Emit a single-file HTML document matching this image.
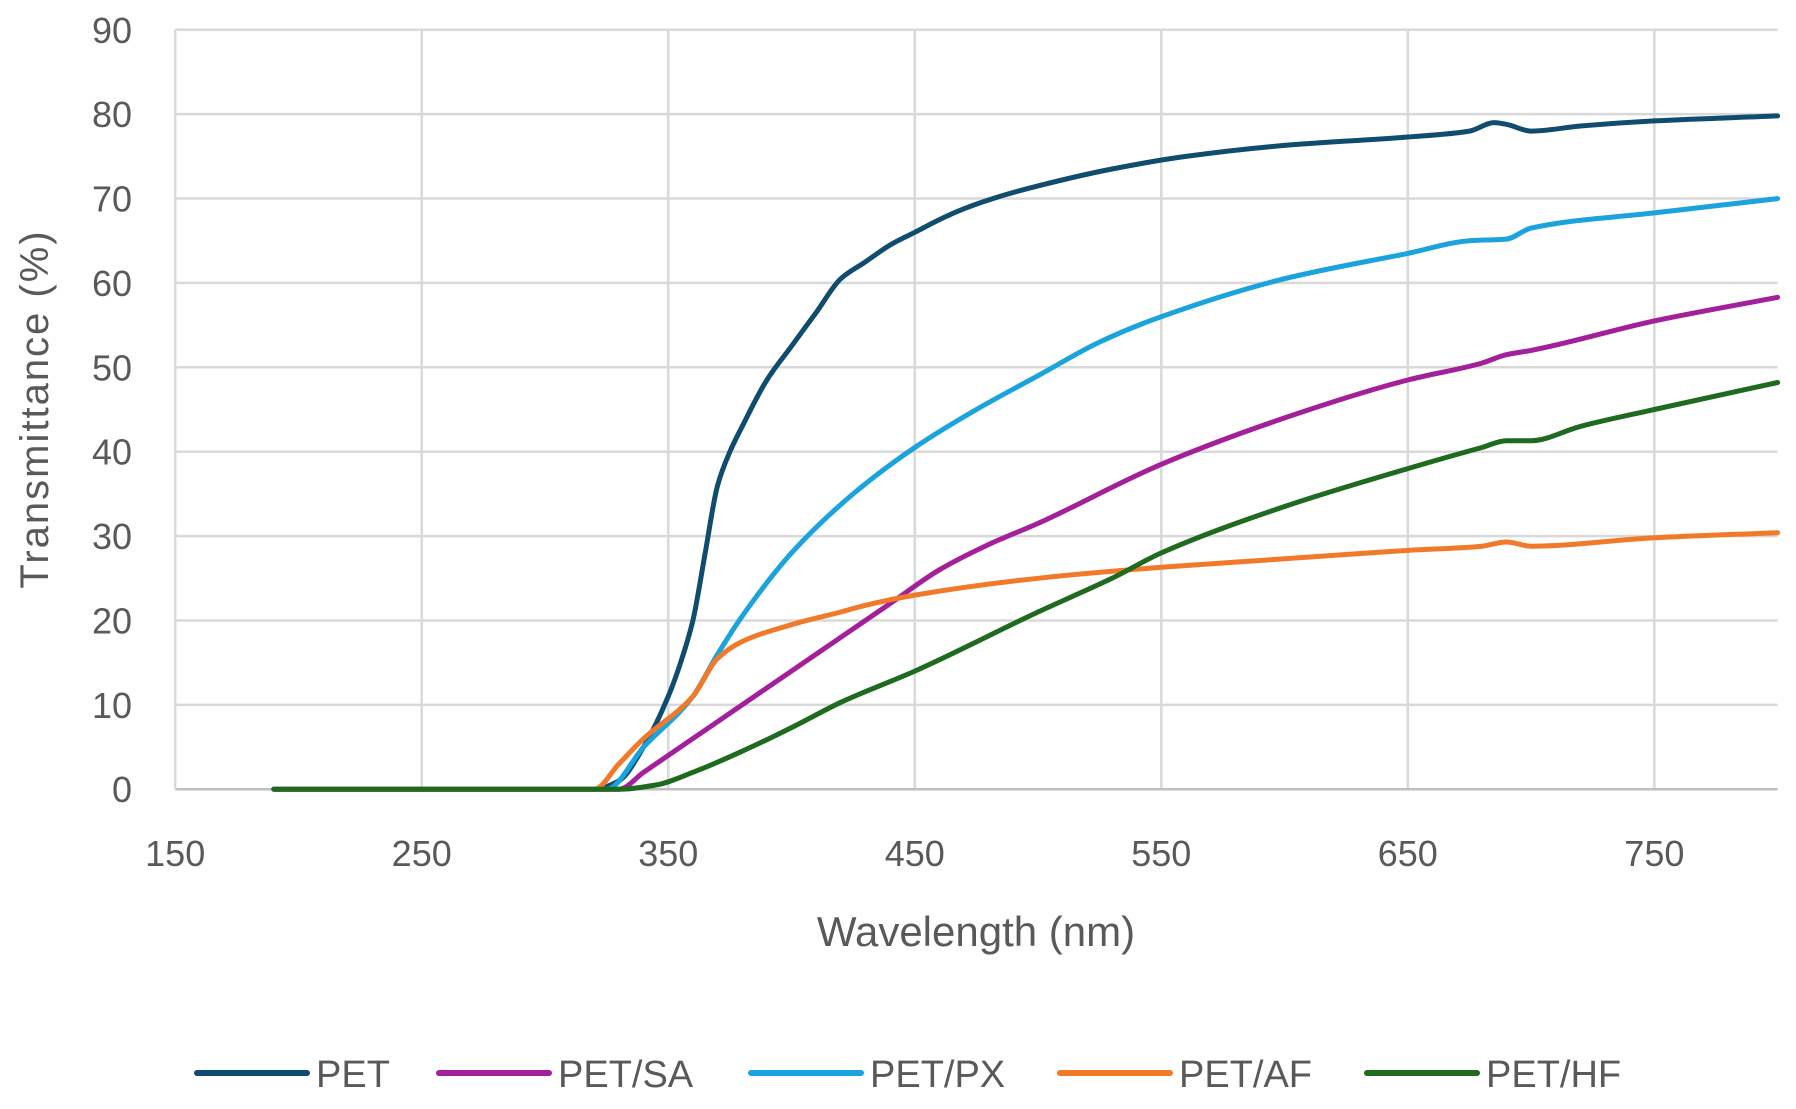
<!DOCTYPE html>
<html><head><meta charset="utf-8"><style>
html,body{margin:0;padding:0;background:#fff;}
svg{display:block;font-family:"Liberation Sans",sans-serif;}
</style></head><body>
<svg id="chart" width="1796" height="1109" viewBox="0 0 1796 1109"></svg>
<script>
const xTicks=[150,250,350,450,550,650,750];
const yTicks=[0,10,20,30,40,50,60,70,80,90];
const seriesNames=["PET","PET/SA","PET/PX","PET/AF","PET/HF"];
const seriesColors=["#0f4c6e","#a3209a","#1aa3dc","#f07a2a","#1e6a1e"];
const petX=[190,320,330,340,350,355,360,365,370,375,380,390,400,410,420,430,440,450,460,470,485,500,530,560,600,650,675,685,690,700,720,750,800];
const petY=[0,0,1,5,11,15,20,28,36,40,43,48.5,52.5,56.5,60.5,62.5,64.5,66,67.5,68.8,70.3,71.5,73.5,75,76.3,77.3,78,79,78.8,78,78.6,79.2,79.8];
const saX=[190,330,340,360,380,400,420,440,460,480,500,550,600,650,680,690,700,750,800];
const saY=[0,0,2,6,10,14,18,22,26,29,31.5,38.5,44,48.5,50.5,51.5,52,55.5,58.3];
const pxX=[190,325,340,360,370,380,400,425,450,475,500,525,550,600,650,675,690,700,750,800];
const pxY=[0,0,5,11,16,20.5,28,35,40.5,45,49,53,56,60.5,63.5,65,65.2,66.5,68.3,70];
const afX=[190,320,330,340,360,370,380,400,420,430,450,500,550,600,650,680,690,700,750,800];
const afY=[0,0,3,6,11,15.5,17.5,19.5,21,21.8,23,25,26.3,27.3,28.3,28.8,29.3,28.8,29.8,30.4];
const hfX=[190,330,345,360,380,400,420,450,500,530,550,600,650,680,690,700,720,750,800];
const hfY=[0,0,0.5,2,4.5,7.3,10.3,14,21,25,28,33.5,38,40.5,41.3,41.3,43,45,48.2];
const allX=[petX,saX,pxX,afX,hfX];
const allY=[petY,saY,pxY,afY,hfY];

const X0=175.2,X1=1777.6,Y0=789.2,Y1=29.8;
const sx=v=>X0+(v-150)*(X1-X0)/650;
const sy=v=>Y0-(v)*(Y0-Y1)/90;
const svg=document.getElementById('chart');
const NS="http://www.w3.org/2000/svg";
function mk(t,a){const e=document.createElementNS(NS,t);for(const k in a)e.setAttribute(k,a[k]);svg.appendChild(e);return e;}
// monotone cubic (Fritsch-Carlson) in data space
function monotonePath(xs,ys){
  const n=xs.length,d=[],m=[];
  for(let i=0;i<n-1;i++)d.push((ys[i+1]-ys[i])/(xs[i+1]-xs[i]));
  m[0]=d[0];m[n-1]=d[n-2];
  for(let i=1;i<n-1;i++){
    if(d[i-1]*d[i]<=0)m[i]=0;
    else{const h0=xs[i]-xs[i-1],h1=xs[i+1]-xs[i];
      const w1=2*h1+h0,w2=h1+2*h0;m[i]=(w1+w2)/(w1/d[i-1]+w2/d[i]);}
  }
  let p='M'+sx(xs[0]).toFixed(1)+','+sy(ys[0]).toFixed(1);
  for(let i=0;i<n-1;i++){
    const h=xs[i+1]-xs[i];
    p+=' C'+sx(xs[i]+h/3).toFixed(1)+','+sy(ys[i]+m[i]*h/3).toFixed(1)+' '+
      sx(xs[i+1]-h/3).toFixed(1)+','+sy(ys[i+1]-m[i+1]*h/3).toFixed(1)+' '+
      sx(xs[i+1]).toFixed(1)+','+sy(ys[i+1]).toFixed(1);
  }
  return p;
}

xTicks.forEach(v=>{
  if(v===150)return;
  const l=mk('line',{x1:sx(v),x2:sx(v),y1:Y1,y2:Y0,stroke:'#d9d9d9','stroke-width':2.5});
  
  
});
yTicks.forEach(v=>{
  const l=mk('line',{x1:X0,x2:X1,y1:sy(v),y2:sy(v),stroke:v===0?'#bfbfbf':'#d9d9d9','stroke-width':2.5});
  
  
  const t=mk('text',{x:132,y:sy(v)+13,'text-anchor':'end','font-size':36,fill:'#595959'});
  t.textContent=v;
  
  
});
const yl=mk('line',{x1:X0,x2:X0,y1:Y1,y2:Y0,stroke:'#d9d9d9','stroke-width':2.5});


xTicks.forEach(v=>{
  const t=mk('text',{x:sx(v),y:866,'text-anchor':'middle','font-size':36,fill:'#595959'});
  t.textContent=v;
  
  
});
const xt=mk('text',{x:976,y:946,'text-anchor':'middle','font-size':42,fill:'#595959'});
xt.textContent='Wavelength (nm)';


const yt=mk('text',{x:0,y:0,'text-anchor':'middle','font-size':40,fill:'#595959','letter-spacing':'2',transform:'translate(48,409) rotate(-90)'});
yt.textContent='Transmittance  (%)';



[0,1,2,3,4].forEach(i=>{
  const p=mk('path',{d:monotonePath(allX[i],allY[i]),fill:'none',stroke:seriesColors[i],'stroke-width':5,'stroke-linejoin':'round','stroke-linecap':'round'});
  
  
});
const legX=[197,439,751,1060,1367];
const legY=1073;
seriesNames.forEach((n,i)=>{
  const g=mk('g',{});
  
  
  const l=document.createElementNS(NS,'line');
  l.setAttribute('x1',legX[i]);l.setAttribute('x2',legX[i]+110);l.setAttribute('y1',legY);l.setAttribute('y2',legY);
  l.setAttribute('stroke',seriesColors[i]);l.setAttribute('stroke-width',6);l.setAttribute('stroke-linecap','round');
  
  
  g.appendChild(l);
  const t=document.createElementNS(NS,'text');
  t.setAttribute('x',legX[i]+119);t.setAttribute('y',legY+14);t.setAttribute('font-size',38);t.setAttribute('fill','#595959');
  t.textContent=n;
  
  
  g.appendChild(t);
});
</script>
</body></html>
